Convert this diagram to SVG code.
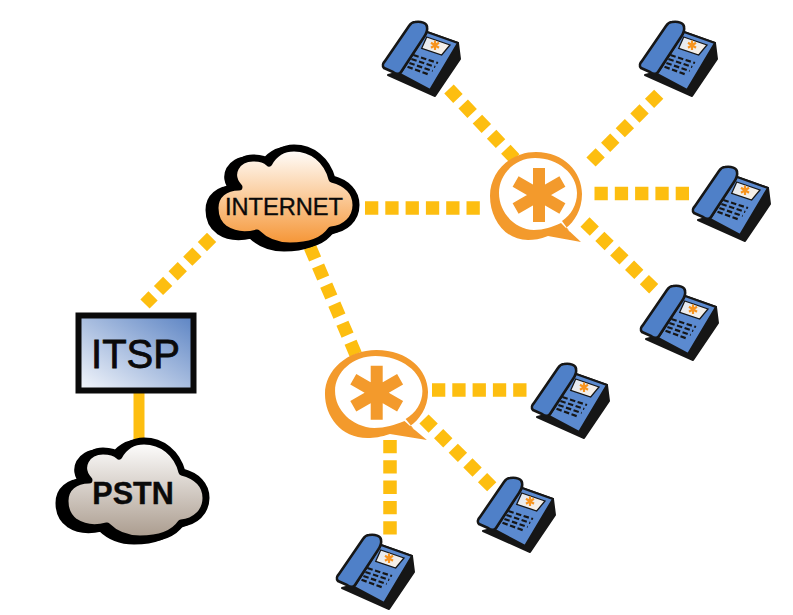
<svg xmlns="http://www.w3.org/2000/svg" width="793" height="615" viewBox="0 0 793 615">
<style>
.dash{fill:none;stroke:#fdbe10;stroke-width:13.500;stroke-dasharray:13.300 7}
.diag{fill:none;stroke:#fdbe10;stroke-width:13;stroke-dasharray:13 7.700}
.solid{fill:none;stroke:#fdbe10;stroke-width:11}
.ink{stroke:#000;stroke-width:7;stroke-linejoin:round}
.label{font-family:"Liberation Sans",Arial,sans-serif;fill:#0a0a0a;stroke:#0a0a0a;text-anchor:middle}
</style>
<defs>
<linearGradient id="gInternet" x1="0" y1="0" x2="0" y2="1"><stop offset="0" stop-color="#fff"/><stop offset="0.45" stop-color="#fbd0a4"/><stop offset="1" stop-color="#f59331"/></linearGradient>
<linearGradient id="gPstn" x1="0" y1="0" x2="0" y2="1"><stop offset="0" stop-color="#fff"/><stop offset="1" stop-color="#a99a8c"/></linearGradient>
<linearGradient id="gItsp" x1="0" y1="1" x2="1" y2="0"><stop offset="0" stop-color="#f6f8fc"/><stop offset="1" stop-color="#5b83c3"/></linearGradient>
<linearGradient id="gScreen" x1="0" y1="0" x2="1" y2="1"><stop offset="0" stop-color="#dfe7f3"/><stop offset="1" stop-color="#fff3e4"/></linearGradient>
<path id="cloudShape" d="M25,78 C25,65 35,57 49,57 C37,44 47,28 63,28 C69,28 75,29 79,33 C84,24 93,18 104,18 C122,18 137,30 142,49 C157,53 166,62 166,75 C166,89 155,99 141,100 C133,112 116,116 100,116 C87,116 75,111 67,103 C55,106 44,105 35,99 C28,94 25,86 25,78 Z"/>
<g id="phone">
<path d="M-33,17 L14,38 L39,1 L37,-15 L6,-26 L-21,14 Z" fill="#161616" stroke="#161616" stroke-width="2" stroke-linejoin="round"/>
<path d="M6,-26 L37,-15 L9,32 L-21,16 Z" fill="#5b8ad0" stroke="#161616" stroke-width="2" stroke-linejoin="round"/>
<path d="M-6,-36 C0,-37 6,-35 6,-31 C7,-27 5,-24 3,-21 L-20,14 C-22,17 -25,16 -28,14 L-37,10 C-39,8 -38,5 -36,3 L-12,-32 C-10,-35 -8,-36 -6,-36 Z" fill="#4f80c8" stroke="#161616" stroke-width="2.600" stroke-linejoin="round"/>
<path d="M5.700,-21 L29,-13 L20.700,-3 L0.700,-9.700 Z" fill="url(#gScreen)" stroke="#161616" stroke-width="1.300"/>
<path d="M14,-17.500 V-8 M10,-15.200 L18,-10.300 M18,-15.200 L10,-10.300" stroke="#f7941e" stroke-width="2.200" fill="none"/>
<path d="M-7.600,-3 L17,5 M-9.600,1 L14.300,9 M-11.600,5 L11.700,13 M-13.500,8.700 L9,17" stroke="#161616" stroke-width="2.200" stroke-dasharray="5.500 2.500" fill="none"/>
</g>
<path id="ring" fill-rule="evenodd" d="M0,-44 C28,-44 46,-24 46,-2 C46,14 38,26 30,32 L45,46 L12,40 C4,43 -2,44 -8,44 C-32,44 -46,22 -46,0 C-46,-24 -26,-44 0,-44 Z M-1,-38 C-21,-38 -37,-22 -37,-3 C-37,16 -22,33 -2,34 C8,34 16,31 25,27 L34,36 L26,25 C35,19 41,9 41,-3 C41,-22 22,-38 -1,-38 Z"/>
<path id="star" fill="none" stroke="#f39a2c" stroke-width="12" d="M0,-27 V27 M-23.400,-13.500 L23.400,13.500 M23.400,-13.500 L-23.400,13.500"/>
</defs>
<g id="connectors">
<line class="diag" x1="449" y1="89" x2="516" y2="160"/>
<line class="diag" x1="591" y1="162" x2="660" y2="93"/>
<line class="dash" x1="594.500" y1="193.600" x2="689" y2="193.600"/>
<line class="diag" x1="585" y1="222" x2="656" y2="291"/>
<line class="dash" x1="365" y1="208" x2="482" y2="208"/>
<line class="diag" x1="211.600" y1="237.400" x2="145" y2="304"/>
<line class="diag" x1="310" y1="247" x2="356" y2="355"/>
<line class="dash" x1="432" y1="390" x2="528" y2="390"/>
<line class="diag" x1="424" y1="419" x2="494" y2="489"/>
<line class="dash" x1="390" y1="440" x2="390" y2="540"/>
<line class="solid" x1="139" y1="393" x2="139" y2="442"/>
</g>
<g id="internet">
<use href="#cloudShape" x="184" y="132" fill="#000" stroke="#000" stroke-width="7"/>
<use href="#cloudShape" x="190" y="130" fill="url(#gInternet)" class="ink"/>
<text class="label" x="284" y="215" font-size="23.600" stroke-width="0.400">INTERNET</text>
</g>
<g id="pstn">
<use href="#cloudShape" x="34" y="425" fill="#000" stroke="#000" stroke-width="7"/>
<use href="#cloudShape" x="40" y="423" fill="url(#gPstn)" class="ink"/>
<text class="label" x="133" y="504" font-size="30.500" font-weight="bold" stroke-width="0.400">PSTN</text>
</g>
<g id="itsp">
<rect x="78.500" y="315.500" width="115" height="75" fill="url(#gItsp)" stroke="#0a0a0a" stroke-width="6"/>
<text class="label" x="135.500" y="368" font-size="40" stroke-width="0.800">ITSP</text>
</g>
<g id="asterisk1"><use href="#ring" x="536" y="196" fill="#f39a2c"/><use href="#star" x="539" y="195"/></g>
<g id="asterisk2"><use href="#ring" transform="translate(376.500 394) scale(1.120 1)" fill="#f39a2c"/><use href="#star" x="376.700" y="392.700"/></g>
<g id="phone1"><use href="#phone" x="421" y="58"/></g>
<g id="phone2"><use href="#phone" x="678" y="58"/></g>
<g id="phone3"><use href="#phone" x="731" y="203"/></g>
<g id="phone4"><use href="#phone" x="679" y="322"/></g>
<g id="phone5"><use href="#phone" x="570" y="400"/></g>
<g id="phone6"><use href="#phone" x="516" y="514"/></g>
<g id="phone7"><use href="#phone" x="375" y="571"/></g>
</svg>
